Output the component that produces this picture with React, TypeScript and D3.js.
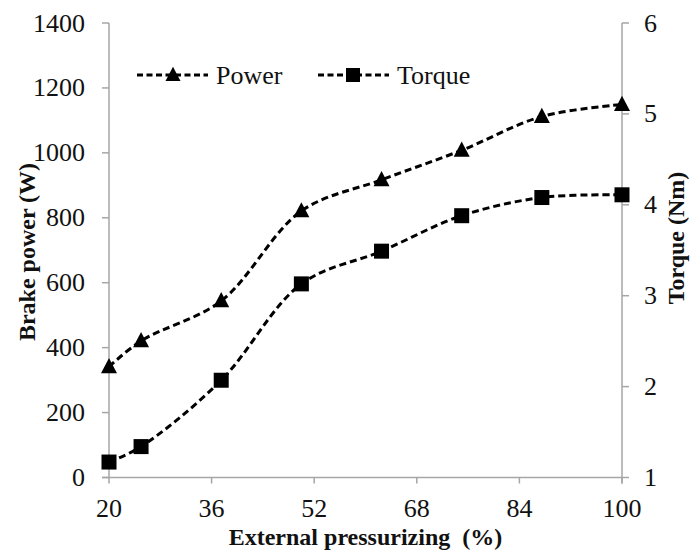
import React from "react";
import * as d3 from "d3";

const pressurizing = [20, 25, 37.5, 50, 62.5, 75, 87.5, 100];
const power = [341, 421, 544, 821, 917, 1008, 1112, 1149];
const torque = [1.17, 1.34, 2.07, 3.13, 3.49, 3.88, 4.08, 4.11];
const xTicks = [20, 36, 52, 68, 84, 100];
const powerTicks = [0, 200, 400, 600, 800, 1000, 1200, 1400];
const torqueTicks = [1, 2, 3, 4, 5, 6];

const W = 690;
const H = 552;
const L = 109;
const R = 622;
const T = 23;
const B = 477.5;
const FONT = "Liberation Serif";
const AXIS = "#a6a6a6";
const FS = 26;

export default function App() {
  const x = d3.scaleLinear().domain([20, 100]).range([L, R]);
  const yP = d3.scaleLinear().domain([0, 1400]).range([B, T]);
  const yT = d3.scaleLinear().domain([1, 6]).range([B, T]);

  const curve = d3.curveCatmullRom.alpha(0.5);
  const pLine = d3
    .line<number>()
    .x((_, i) => x(pressurizing[i]))
    .y((d) => yP(d))
    .curve(curve);
  const tLine = d3
    .line<number>()
    .x((_, i) => x(pressurizing[i]))
    .y((d) => yT(d))
    .curve(curve);

  const tri = (cx: number, cy: number, s = 16) =>
    `M${cx},${cy - s * 0.55} L${cx + s / 2},${cy + s * 0.4} L${cx - s / 2},${cy + s * 0.4} Z`;
  const sq = 15;

  return (
    <svg
      width={W}
      height={H}
      style={{ position: "absolute", left: 0, top: 0, display: "block", background: "#fff" }}
    >
      <rect x={0} y={0} width={W} height={H} fill="#fff" />
      {/* axes */}
      <line x1={L} x2={L} y1={T} y2={B} stroke={AXIS} strokeWidth={1.5} />
      <line x1={R} x2={R} y1={T} y2={B + 6} stroke={AXIS} strokeWidth={1.5} />
      <line x1={L - 7} x2={R} y1={B} y2={B} stroke={AXIS} strokeWidth={1.5} />
      {powerTicks.map((t) => (
        <g key={"p" + t}>
          <line x1={L - 7} x2={L} y1={yP(t)} y2={yP(t)} stroke={AXIS} strokeWidth={1.5} />
          <text x={85} y={yP(t) + 8.5} textAnchor="end" fontFamily={FONT} fontSize={FS} fill="#111">
            {t}
          </text>
        </g>
      ))}
      {torqueTicks.map((t) => (
        <g key={"t" + t}>
          <line x1={R} x2={R + 7} y1={yT(t)} y2={yT(t)} stroke={AXIS} strokeWidth={1.5} />
          <text x={644} y={yT(t) + 8.5} textAnchor="start" fontFamily={FONT} fontSize={FS} fill="#111">
            {t}
          </text>
        </g>
      ))}
      {xTicks.map((t) => (
        <g key={"x" + t}>
          <line x1={x(t)} x2={x(t)} y1={B} y2={B + 6} stroke={AXIS} strokeWidth={1.5} />
          <text x={x(t)} y={517} textAnchor="middle" fontFamily={FONT} fontSize={FS} fill="#111">
            {t}
          </text>
        </g>
      ))}

      {/* titles */}
      <text x={(L + R) / 2} y={545} textAnchor="middle" fontFamily={FONT} fontSize={24} fontWeight="bold" fill="#111">
        {"External pressurizing\u00a0 (%)"}
      </text>
      <text
        transform={`translate(35,252) rotate(-90)`}
        textAnchor="middle"
        fontFamily={FONT}
        fontSize={24}
        fontWeight="bold"
        fill="#111"
      >
        Brake power (W)
      </text>
      <text
        transform={`translate(684,238) rotate(-90)`}
        textAnchor="middle"
        fontFamily={FONT}
        fontSize={24}
        fontWeight="bold"
        fill="#111"
      >
        Torque (Nm)
      </text>

      {/* series */}
      <path d={pLine(power) || ""} fill="none" stroke="#000" strokeWidth={3} strokeDasharray="7,4" />
      <path d={tLine(torque) || ""} fill="none" stroke="#000" strokeWidth={3} strokeDasharray="7,4" />
      {power.map((v, i) => (
        <path key={"pm" + i} d={tri(x(pressurizing[i]), yP(v))} fill="#000" />
      ))}
      {torque.map((v, i) => (
        <rect
          key={"tm" + i}
          x={x(pressurizing[i]) - sq / 2}
          y={yT(v) - sq / 2}
          width={sq}
          height={sq}
          fill="#000"
        />
      ))}

      {/* legend */}
      <line x1={137} x2={208} y1={75} y2={75} stroke="#000" strokeWidth={3} strokeDasharray="6,3.5" />
      <path d={tri(173, 75, 15)} fill="#000" />
      <text x={216} y={84} fontFamily={FONT} fontSize={FS} fill="#111">
        Power
      </text>
      <line x1={318} x2={389} y1={75} y2={75} stroke="#000" strokeWidth={3} strokeDasharray="6,3.5" />
      <rect x={353 - 7} y={75 - 7} width={14} height={14} fill="#000" />
      <text x={397} y={84} fontFamily={FONT} fontSize={FS} fill="#111">
        Torque
      </text>
    </svg>
  );
}
